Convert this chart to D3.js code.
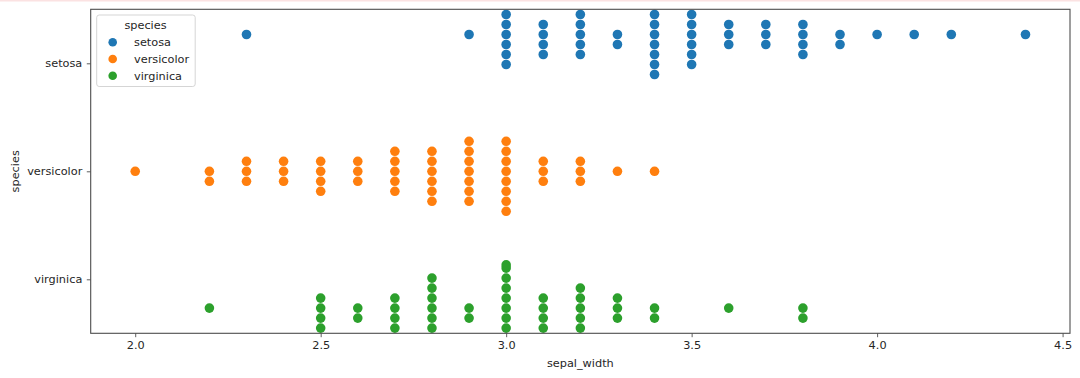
<!DOCTYPE html>
<html>
<head>
<meta charset="utf-8">
<title>iris swarm</title>
<script src="https://d3js.org/d3.v7.min.js"></script>
<style>
  body { margin: 0; background: #fff; }
  text { font-family: "DejaVu Sans", sans-serif; fill: #262626; }
</style>
</head>
<body>
<script>
// data: count of flowers at each sepal_width, per species
const widths = [2.0, 2.2, 2.3, 2.4, 2.5, 2.6, 2.7, 2.8, 2.9, 3.0, 3.1, 3.2, 3.3, 3.4, 3.5, 3.6, 3.7, 3.8, 3.9, 4.0, 4.1, 4.2, 4.4];
const setosaCounts     = [0, 0, 1, 0, 0, 0, 0, 0, 1, 6, 4, 5, 2, 9, 6, 3, 3, 4, 2, 1, 1, 1, 1];
const versicolorCounts = [1, 2, 3, 3, 4, 3, 5, 6, 7, 8, 3, 3, 1, 1, 0, 0, 0, 0, 0, 0, 0, 0, 0];
const virginicaCounts  = [0, 1, 0, 0, 4, 2, 4, 8, 2, 12, 4, 5, 3, 2, 0, 1, 0, 2, 0, 0, 0, 0, 0];
const species = ["setosa", "versicolor", "virginica"];
const colors = ["#1f77b4", "#ff7f0e", "#2ca02c"];
const xTicks = [2.0, 2.5, 3.0, 3.5, 4.0, 4.5];

const W = 1080, H = 378;
const axLeft = 90.7, axRight = 1070, axTop = 9.3, axBottom = 333.3;
const fs = 11.3;

const svg = d3.select("body").append("svg")
    .attr("width", W).attr("height", H);

// faint line on top edge of the screenshot
svg.append("rect").attr("x", 0).attr("y", 0).attr("width", W).attr("height", 1.5)
    .attr("fill", "#fbe2e2");

const x = d3.scaleLinear().domain([1.88, 4.52]).range([axLeft, axRight]);
const y = d3.scaleLinear().domain([-0.5, 2.5]).range([axTop, axBottom]);
const unit = y(1) - y(0);

svg.append("clipPath").attr("id", "plot")
    .append("rect").attr("x", axLeft).attr("y", axTop)
    .attr("width", axRight - axLeft).attr("height", axBottom - axTop);

// build swarm points: each hue dodged by 0.8/3, points stacked 0,+1,-1,+2,-2...
const allCounts = [setosaCounts, versicolorCounts, virginicaCounts];
const step = 10, r = 4.8;
let points = [];
allCounts.forEach(function(counts, s) {
    const center = y(s) + (s - 1) * 0.8 / 3 * unit;
    const gutter = 0.4 * unit;
    counts.forEach(function(n, i) {
        for (let k = 0; k < n; k++) {
            let m = Math.ceil(k / 2) * (k % 2 === 1 ? 1 : -1);
            let off = Math.max(-gutter, Math.min(gutter, m * step));
            points.push({ s: s, cx: x(widths[i]), cy: center + off });
        }
    });
});

svg.append("g").attr("clip-path", "url(#plot)")
    .selectAll("circle").data(points).enter()
    .append("circle")
    .attr("cx", d => d.cx)
    .attr("cy", d => d.cy)
    .attr("r", r)
    .attr("fill", d => colors[d.s]);

// frame
svg.append("rect").attr("x", axLeft).attr("y", axTop)
    .attr("width", axRight - axLeft).attr("height", axBottom - axTop)
    .attr("fill", "none").attr("stroke", "#4d4d4d").attr("stroke-width", 1.1);

// x axis
const xAxis = svg.append("g").attr("transform", "translate(0," + axBottom + ")")
    .call(d3.axisBottom(x).tickValues(xTicks).tickFormat(d3.format(".1f"))
        .tickSize(3.9).tickPadding(4));
xAxis.select(".domain").remove();
xAxis.selectAll("line").attr("stroke", "#4d4d4d").attr("stroke-width", 0.9);
xAxis.selectAll("text").attr("font-size", fs).attr("fill", "#262626")
    .style("font-family", "DejaVu Sans");

// y axis
const yAxis = svg.append("g").attr("transform", "translate(" + axLeft + ",0)")
    .call(d3.axisLeft(y).tickValues([0, 1, 2]).tickFormat(d => species[d])
        .tickSize(3.9).tickPadding(4.5));
yAxis.select(".domain").remove();
yAxis.selectAll("line").attr("stroke", "#4d4d4d").attr("stroke-width", 0.9);
yAxis.selectAll("text").attr("font-size", fs).attr("fill", "#262626")
    .style("font-family", "DejaVu Sans");

// axis labels
svg.append("text").attr("x", (axLeft + axRight) / 2).attr("y", 367)
    .attr("text-anchor", "middle").attr("font-size", fs).text("sepal_width");
svg.append("text")
    .attr("transform", "translate(19," + (axTop + axBottom) / 2 + ") rotate(-90)")
    .attr("text-anchor", "middle").attr("font-size", fs).text("species");

// legend
const lg = svg.append("g");
lg.append("rect").attr("x", 96.7).attr("y", 15).attr("width", 98.5).attr("height", 71.5)
    .attr("rx", 2.5).attr("fill", "#fff").attr("fill-opacity", 0.8)
    .attr("stroke", "#d0d0d0").attr("stroke-width", 0.9);
lg.append("text").attr("x", 145.5).attr("y", 29).attr("text-anchor", "middle")
    .attr("font-size", fs).text("species");
species.forEach(function(name, i) {
    const cy = 42.3 + i * 16.7;
    lg.append("circle").attr("cx", 112.7).attr("cy", cy).attr("r", 4.3).attr("fill", colors[i]);
    lg.append("text").attr("x", 134).attr("y", cy + 4).attr("font-size", fs).text(name);
});
</script>
</body>
</html>
